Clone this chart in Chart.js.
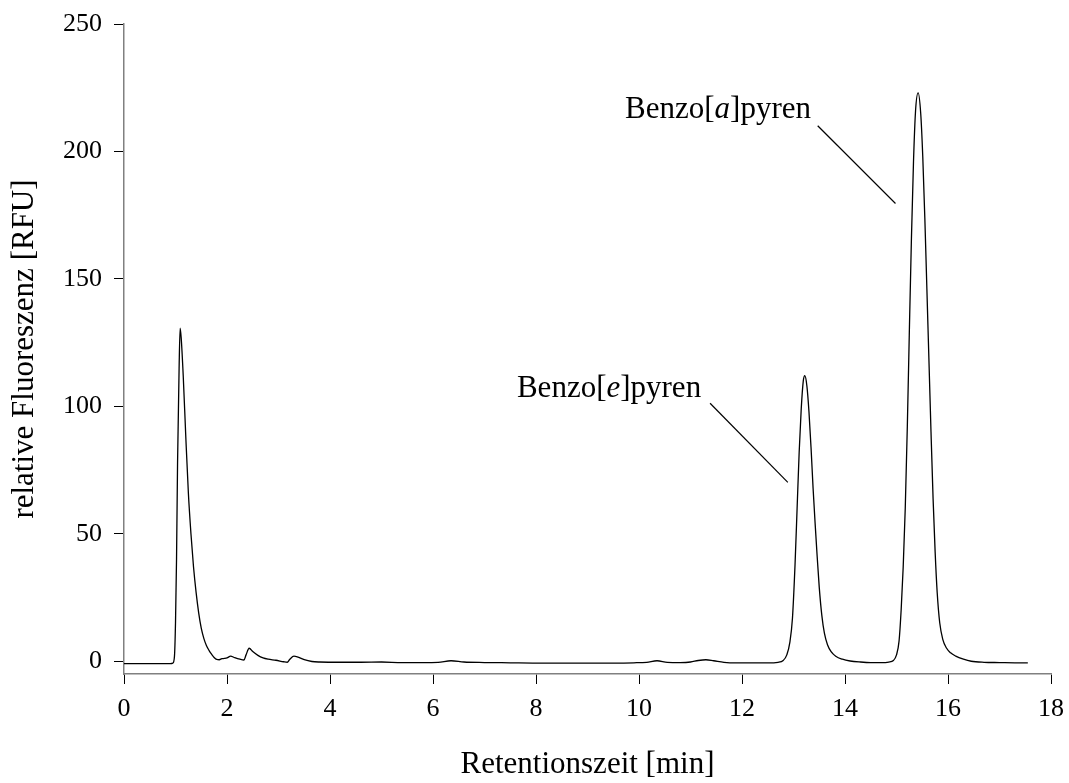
<!DOCTYPE html>
<html>
<head>
<meta charset="utf-8">
<script src="https://cdn.jsdelivr.net/npm/chart.js@4.4.1/dist/chart.umd.min.js"></script>
<style>
  html, body { margin: 0; padding: 0; background: #ffffff; }
  #wrap { width: 1069px; height: 783px; position: relative; }
</style>
</head>
<body>
<div id="wrap"><canvas id="c" width="1069" height="783"></canvas></div>
<script>
// ---- Data ----
const retentionTime = [
  0.00, 0.30, 0.60, 0.90, 0.95, 0.98, 1.00, 1.02, 1.04, 1.07, 1.09, 1.11, 1.15, 1.20, 1.25, 1.30,
  1.35, 1.40, 1.45, 1.50, 1.55, 1.60, 1.65, 1.70, 1.75, 1.80, 1.85, 1.90, 1.95, 2.00, 2.07, 2.15,
  2.25, 2.33, 2.37, 2.43, 2.50, 2.60, 2.70, 2.80, 2.95, 3.10, 3.17, 3.22, 3.30, 3.38, 3.50, 3.65,
  3.80, 4.20, 4.60, 5.00, 5.40, 5.80, 6.10, 6.35, 6.60, 7.00, 7.50, 8.00, 8.50, 9.00, 9.50, 9.90,
  10.15, 10.35, 10.55, 10.80, 11.00, 11.15, 11.30, 11.45, 11.65, 11.90, 12.20, 12.50, 12.70, 12.80,
  12.87, 12.93, 12.98, 13.03, 13.07, 13.11, 13.15, 13.19, 13.22, 13.26, 13.30, 13.34, 13.38, 13.42,
  13.46, 13.50, 13.55, 13.60, 13.66, 13.73, 13.82, 13.95, 14.10, 14.30, 14.50, 14.70, 14.85, 14.94,
  15.00, 15.05, 15.09, 15.13, 15.17, 15.21, 15.25, 15.29, 15.33, 15.37, 15.42, 15.47, 15.51, 15.55,
  15.59, 15.63, 15.67, 15.71, 15.75, 15.79, 15.84, 15.90, 15.97, 16.05, 16.15, 16.30, 16.45, 16.70,
  17.00, 17.30, 17.55
];
const fluorescence = [
  -0.9, -0.9, -0.9, -0.9, -0.7, 2, 15, 40, 78, 115, 130.7, 127, 112, 88, 66, 50,
  37, 27, 19, 13, 9, 6.2, 4.3, 2.8, 1.5, 0.7, 0.6, 1.0, 1.1, 1.3, 2.0, 1.4,
  0.8, 0.5, 2.5, 5.1, 3.8, 2.3, 1.3, 0.8, 0.4, -0.2, -0.4, 0.8, 2.0, 1.6, 0.6, -0.1,
  -0.3, -0.4, -0.4, -0.3, -0.5, -0.5, -0.4, 0.2, -0.3, -0.5, -0.6, -0.7, -0.7, -0.7, -0.7, -0.6,
  -0.4, 0.2, -0.4, -0.5, -0.3, 0.3, 0.6, 0.2, -0.4, -0.6, -0.6, -0.6, -0.4, 0.3,
  2.5, 7.5, 17, 38, 60, 82, 99, 110, 112, 108, 98, 84, 68, 54,
  41, 29, 18, 11, 6.5, 3.8, 2.0, 0.8, 0.1, -0.3, -0.5, -0.5, -0.3, 0.3,
  2.5, 8, 20, 37, 60, 92, 130, 166, 196, 216, 223, 215, 198, 174,
  146, 118, 90, 64, 43, 27, 15, 8.5, 5.2, 3.3, 2.0, 0.8, 0.0, -0.4,
  -0.5, -0.6, -0.6
];
const xTickValues = [0, 2, 4, 6, 8, 10, 12, 14, 16, 18];
const yTickValues = [0, 50, 100, 150, 200, 250];
const xAxisTitle = 'Retentionszeit [min]';
const yAxisTitle = 'relative Fluoreszenz [RFU]';

// Peak labels: [before italic, italic, after italic]
const peakLabelParts = [['Benzo[', 'e', ']pyren'], ['Benzo[', 'a', ']pyren']];
// label anchor (left, baseline) and leader line ends in data units
const peakLabelAnchor = [[7.63, 103.6], [9.73, 213.0]];
const peakLeaderStart = [[11.38, 101.2], [13.47, 210.1]];
const peakLeaderEnd = [[12.89, 70.2], [14.98, 179.6]];

const FONT = '"Liberation Serif", "Times New Roman", "DejaVu Serif", serif';

const points = retentionTime.map((t, i) => ({ x: t, y: fluorescence[i] }));

const peakLabelsPlugin = {
  id: 'peakLabels',
  afterDatasetsDraw(chart) {
    const { ctx, scales: { x, y } } = chart;
    ctx.save();
    ctx.fillStyle = '#000';
    ctx.strokeStyle = '#000';
    ctx.lineWidth = 1.2;
    ctx.textBaseline = 'alphabetic';
    ctx.textAlign = 'left';
    peakLabelParts.forEach((parts, i) => {
      let px = x.getPixelForValue(peakLabelAnchor[i][0]);
      const py = y.getPixelForValue(peakLabelAnchor[i][1]);
      parts.forEach((p, j) => {
        ctx.font = (j === 1 ? 'italic ' : '') + '31px ' + FONT;
        ctx.fillText(p, px, py);
        px += ctx.measureText(p).width;
      });
      ctx.beginPath();
      ctx.moveTo(x.getPixelForValue(peakLeaderStart[i][0]), y.getPixelForValue(peakLeaderStart[i][1]));
      ctx.lineTo(x.getPixelForValue(peakLeaderEnd[i][0]), y.getPixelForValue(peakLeaderEnd[i][1]));
      ctx.stroke();
    });
    ctx.restore();
  }
};

new Chart(document.getElementById('c'), {
  type: 'line',
  data: {
    datasets: [{
      data: points,
      borderColor: '#000',
      borderWidth: 1.3,
      pointRadius: 0,
      fill: false,
      cubicInterpolationMode: 'monotone'
    }]
  },
  options: {
    responsive: false,
    animation: false,
    devicePixelRatio: 1,
    layout: { padding: { left: 0, right: 18, top: 24, bottom: 0 } },
    plugins: { legend: { display: false }, tooltip: { enabled: false } },
    scales: {
      x: {
        type: 'linear',
        min: 0, max: 18,
        afterBuildTicks: (s) => { s.ticks = xTickValues.map(v => ({ value: v })); },
        afterFit: (s) => { s.height = 109; s.paddingLeft = 0; s.paddingRight = 0; },
        ticks: { color: '#000', font: { family: FONT, size: 26 }, padding: 10, maxRotation: 0 },
        grid: { display: true, drawOnChartArea: false, drawTicks: true, tickLength: 10, color: '#000', lineWidth: 1 },
        border: { display: true, color: '#808080', width: 1.5 },
        title: { display: true, text: xAxisTitle, color: '#000', font: { family: FONT, size: 31 }, padding: { top: 0, bottom: 0 } }
      },
      y: {
        type: 'linear',
        min: -5, max: 250,
        afterBuildTicks: (s) => { s.ticks = yTickValues.map(v => ({ value: v })); },
        afterFit: (s) => { s.width = 124; s.paddingTop = 0; s.paddingBottom = 0; },
        ticks: { color: '#000', font: { family: FONT, size: 26 }, padding: 12 },
        grid: { display: true, drawOnChartArea: false, drawTicks: true, tickLength: 10, color: '#000', lineWidth: 1 },
        border: { display: true, color: '#808080', width: 1.5 },
        title: { display: true, text: yAxisTitle, color: '#000', font: { family: FONT, size: 31 }, padding: { top: 6, bottom: 0 } }
      }
    }
  },
  plugins: [peakLabelsPlugin]
});
</script>
</body>
</html>
